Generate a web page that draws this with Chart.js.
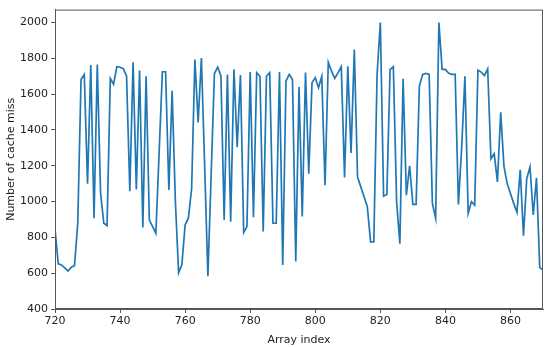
<!DOCTYPE html>
<html>
<head>
<meta charset="utf-8">
<script src="https://cdn.jsdelivr.net/npm/chart.js@4/dist/chart.umd.min.js"></script>
<style>
  html, body { margin: 0; padding: 0; background: #fff; }
  #wrap { width: 550px; height: 347px; }
</style>
</head>
<body>
<div id="wrap"><canvas id="c" width="550" height="347"></canvas></div>
<script>
const firstIndex = 720;
const missCount = [
  846, 652, 646, 630, 612, 633, 642, 880, 1682, 1710,
  1100, 1762, 907, 1765, 1050, 879, 866, 1688, 1655, 1753,
  1750, 1742, 1700, 1058, 1778, 1067, 1732, 855, 1700, 897,
  860, 823, 1270, 1725, 1725, 1064, 1618, 1000, 602, 648,
  870, 907, 1073, 1793, 1442, 1802, 1200, 583, 1150, 1714,
  1751, 1701, 897, 1710, 888, 1738, 1304, 1706, 827, 860,
  1723, 912, 1720, 1700, 833, 1700, 1720, 879, 879, 1723,
  646, 1673, 1710, 1682, 665, 1640, 916, 1720, 1156, 1664,
  1692, 1636, 1700, 1091, 1778, 1728, 1688, 1720, 1753, 1134,
  1756, 1272, 1849, 1137, 1082, 1027, 971, 775, 775, 1710,
  2000, 1030, 1040, 1738, 1753, 1000, 765, 1686, 1036, 1199,
  984, 984, 1645, 1710, 1716, 1710, 990, 907, 2000, 1738,
  1738, 1716, 1710, 1710, 984, 1300, 1700, 934, 999, 980,
  1734, 1723, 1704, 1741, 1239, 1267, 1110, 1498, 1197, 1100,
  1045, 990, 940, 1178, 809, 1128, 1193, 925, 1132, 630,
  620
];
const arrayIndex = missCount.map((_, i) => firstIndex + i);
const xTicks = [720, 740, 760, 780, 800, 820, 840, 860];
const yTicks = [400, 600, 800, 1000, 1200, 1400, 1600, 1800, 2000];
const xRange = [720, 870];
const yRange = [400, 2072];

const frame = {
  id: 'frame',
  afterDraw(chart) {
    const a = chart.chartArea, ctx = chart.ctx;
    ctx.save();
    ctx.strokeStyle = '#555';
    ctx.lineWidth = 1;
    ctx.strokeRect(a.left + 0.5, a.top + 0.5, a.right - a.left - 1, a.bottom - a.top - 1);
    ctx.restore();
  }
};

new Chart(document.getElementById('c'), {
  type: 'line',
  data: {
    datasets: [{
      data: arrayIndex.map((x, i) => ({ x: x, y: missCount[i] })),
      borderColor: '#1f77b4',
      borderWidth: 1.7,
      pointRadius: 0,
      tension: 0,
      fill: false
    }]
  },
  options: {
    responsive: false,
    animation: false,
    layout: { padding: { top: 6, right: 7, left: 0, bottom: 0 } },
    plugins: { legend: { display: false }, tooltip: { enabled: false } },
    scales: {
      x: {
        type: 'linear',
        min: xRange[0], max: xRange[1],
        afterBuildTicks(s) { s.ticks = xTicks.map(v => ({ value: v })); },
        afterFit(s) { s.height = 38; },
        grid: { drawOnChartArea: false, drawTicks: true, tickLength: 4, color: '#555' },
        border: { display: true, color: '#555' },
        ticks: { color: '#222', padding: 2, maxRotation: 0, callback: v => String(v), font: { family: 'DejaVu Sans', size: 11 } },
        title: { display: true, text: 'Array index', color: '#222', padding: { top: 0, bottom: 0 }, font: { family: 'DejaVu Sans', size: 11 } }
      },
      y: {
        type: 'linear',
        min: yRange[0], max: yRange[1],
        afterBuildTicks(s) { s.ticks = yTicks.map(v => ({ value: v })); },
        afterFit(s) { s.width = 55; },
        grid: { drawOnChartArea: false, drawTicks: true, tickLength: 4, color: '#555' },
        border: { display: true, color: '#555' },
        ticks: { color: '#222', padding: 3, callback: v => String(v), font: { family: 'DejaVu Sans', size: 11 } },
        title: { display: true, text: 'Number of cache miss', color: '#222', padding: { top: 5, bottom: 0 }, font: { family: 'DejaVu Sans', size: 11 } }
      }
    }
  },
  plugins: [frame]
});
</script>
</body>
</html>
